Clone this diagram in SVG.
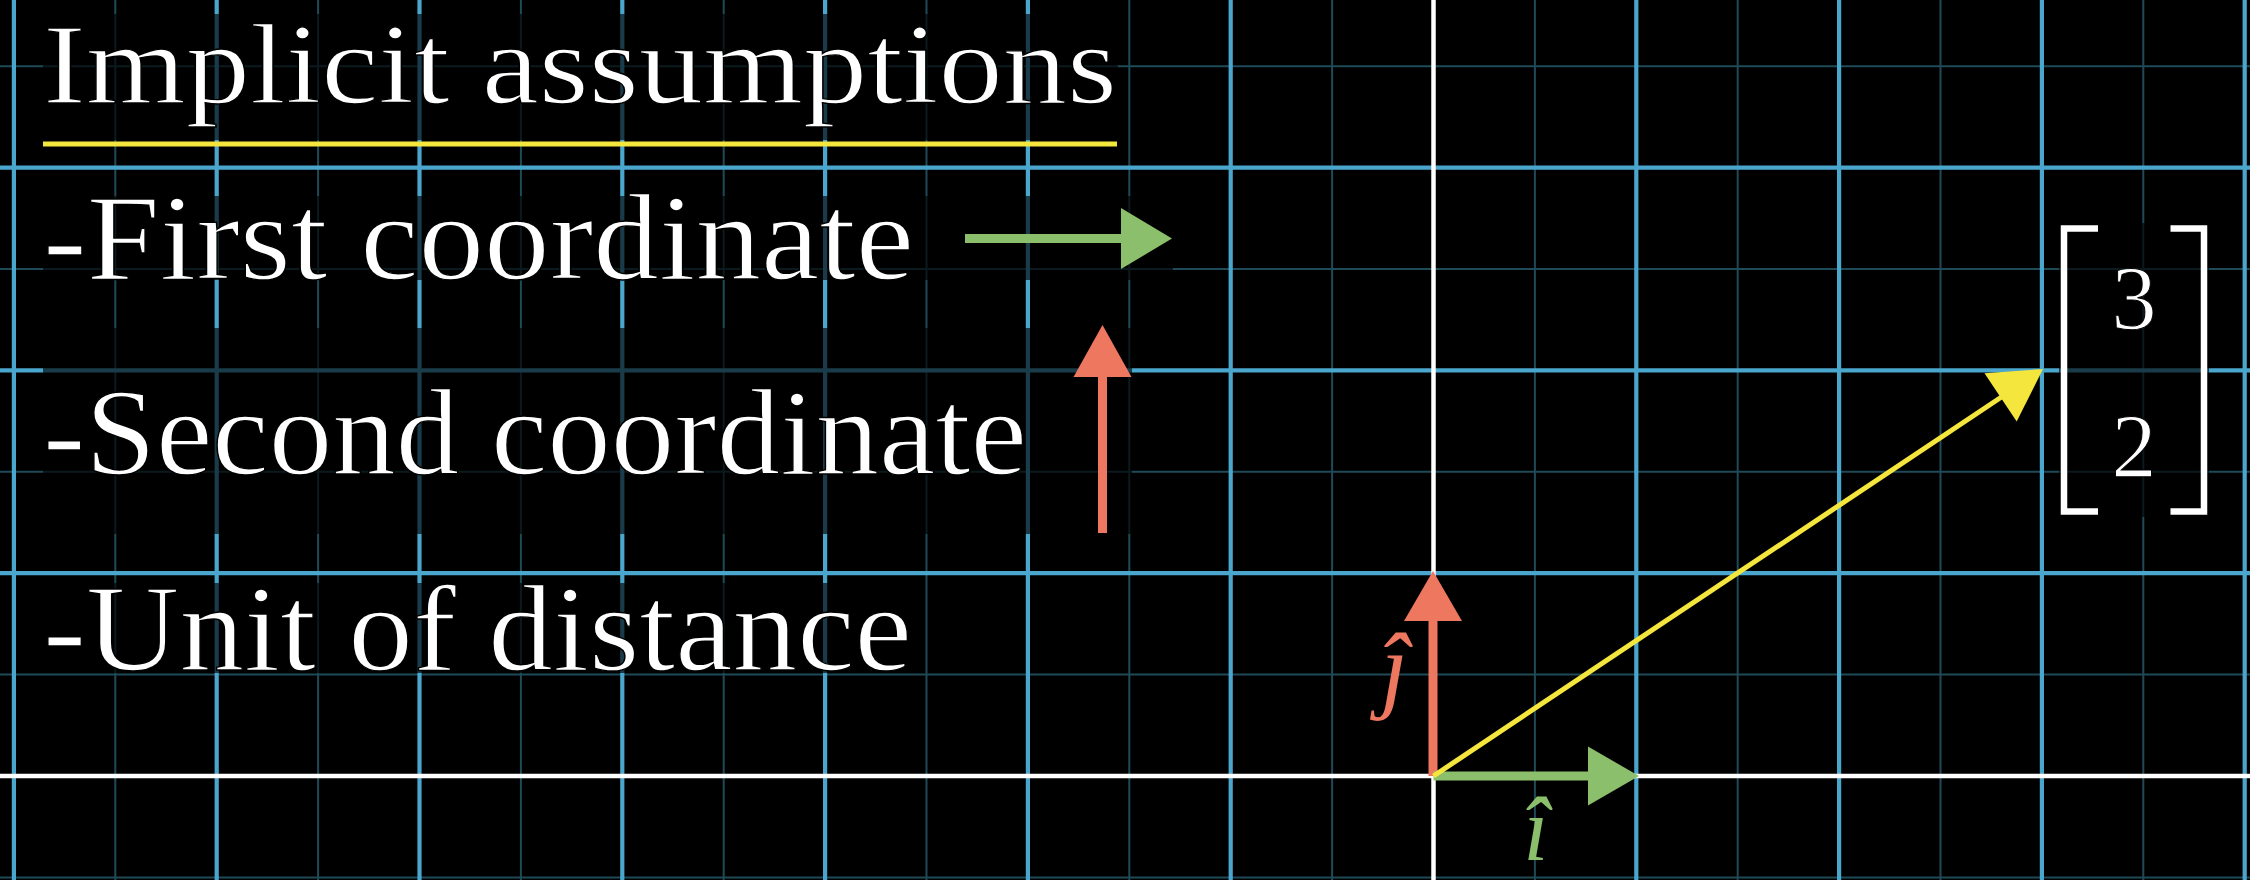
<svg xmlns="http://www.w3.org/2000/svg" width="2250" height="880" viewBox="0 0 2250 880">
<style>
.minor{stroke:#1f4a57;stroke-width:2}
.major{stroke:#4aa6cd;stroke-width:4.2}
.axis{stroke:#ffffff;stroke-width:4.5}
.dim{fill:#000000;fill-opacity:0.64}
.txt{font-family:"Liberation Serif","Times New Roman",serif;font-size:122px;fill:#ffffff;stroke:#000000;stroke-width:1.4}
.ttl{font-size:115px}
.num{font-family:"Liberation Serif","Times New Roman",serif;font-size:90px;fill:#ffffff;text-anchor:middle;stroke:#000000;stroke-width:1}
.hat{font-family:"Liberation Serif","Times New Roman",serif;font-style:italic;font-size:98px;text-anchor:middle}
.ihat{font-size:90px}
.green{fill:#8cbf6b;stroke:#8cbf6b}
.red{fill:#ee775f;stroke:#ee775f}
.yellow{fill:#f4e63d;stroke:#f4e63d}
.shaft{stroke-width:9;fill:none}
.head{stroke:none}
</style>
<rect x="0" y="0" width="2250" height="880" fill="#000000"/>
<g id="grid">
<g id="minor-lines">
<line class="minor" x1="115.3" y1="0" x2="115.3" y2="880"/>
<line class="minor" x1="318.1" y1="0" x2="318.1" y2="880"/>
<line class="minor" x1="520.9" y1="0" x2="520.9" y2="880"/>
<line class="minor" x1="723.7" y1="0" x2="723.7" y2="880"/>
<line class="minor" x1="926.5" y1="0" x2="926.5" y2="880"/>
<line class="minor" x1="1129.3" y1="0" x2="1129.3" y2="880"/>
<line class="minor" x1="1332.1" y1="0" x2="1332.1" y2="880"/>
<line class="minor" x1="1534.9" y1="0" x2="1534.9" y2="880"/>
<line class="minor" x1="1737.7" y1="0" x2="1737.7" y2="880"/>
<line class="minor" x1="1940.5" y1="0" x2="1940.5" y2="880"/>
<line class="minor" x1="2143.3" y1="0" x2="2143.3" y2="880"/>
<line class="minor" x1="0" y1="66.2" x2="2250" y2="66.2"/>
<line class="minor" x1="0" y1="269" x2="2250" y2="269"/>
<line class="minor" x1="0" y1="471.8" x2="2250" y2="471.8"/>
<line class="minor" x1="0" y1="674.6" x2="2250" y2="674.6"/>
<line class="minor" x1="0" y1="877.4" x2="2250" y2="877.4"/>
</g>
<g id="major-lines">
<line class="major" x1="13.9" y1="0" x2="13.9" y2="880"/>
<line class="major" x1="216.7" y1="0" x2="216.7" y2="880"/>
<line class="major" x1="419.5" y1="0" x2="419.5" y2="880"/>
<line class="major" x1="622.3" y1="0" x2="622.3" y2="880"/>
<line class="major" x1="825.1" y1="0" x2="825.1" y2="880"/>
<line class="major" x1="1027.9" y1="0" x2="1027.9" y2="880"/>
<line class="major" x1="1230.7" y1="0" x2="1230.7" y2="880"/>
<line class="major" x1="1636.3" y1="0" x2="1636.3" y2="880"/>
<line class="major" x1="1839.1" y1="0" x2="1839.1" y2="880"/>
<line class="major" x1="2041.9" y1="0" x2="2041.9" y2="880"/>
<line class="major" x1="2244.7" y1="0" x2="2244.7" y2="880"/>
<line class="major" x1="0" y1="167.6" x2="2250" y2="167.6"/>
<line class="major" x1="0" y1="370.4" x2="2250" y2="370.4"/>
<line class="major" x1="0" y1="573.2" x2="2250" y2="573.2"/>
</g>
<g id="axes">
<line class="axis" x1="0" y1="776" x2="2250" y2="776"/>
<line class="axis" x1="1433.5" y1="0" x2="1433.5" y2="880"/>
</g>
</g>
<g id="backgrounds">
<rect class="dim" x="43" y="14" width="1075" height="126"/>
<rect class="dim" x="43" y="196" width="1130" height="84"/>
<rect class="dim" x="43" y="328" width="1089" height="206"/>
<rect class="dim" x="43" y="583" width="870" height="90"/>
<rect class="dim" x="2059" y="223" width="150" height="294"/>
</g>
<g id="title">
<text class="txt ttl" x="43" y="102.5" textLength="1074" lengthAdjust="spacingAndGlyphs">Implicit assumptions</text>
<line x1="43" y1="144" x2="1117" y2="144" stroke="#f4e63d" stroke-width="5"/>
</g>
<g id="item-first">
<text class="txt" x="43" y="278.5" textLength="871" lengthAdjust="spacingAndGlyphs">-First coordinate</text>
<line class="green shaft" x1="965" y1="238.5" x2="1124" y2="238.5"/>
<polygon class="green head" points="1172,238.5 1121,208 1121,269"/>
</g>
<g id="item-second">
<text class="txt" x="43" y="474" textLength="984" lengthAdjust="spacingAndGlyphs">-Second coordinate</text>
<line class="red shaft" x1="1102.5" y1="533" x2="1102.5" y2="374"/>
<polygon class="red head" points="1102.5,325 1073.5,377 1131.5,377"/>
</g>
<g id="item-unit">
<text class="txt" x="43" y="670" textLength="869" lengthAdjust="spacingAndGlyphs">-Unit of distance</text>
</g>
<g id="matrix">
<path d="M2098,228.5 H2064 V511.5 H2098" fill="none" stroke="#ffffff" stroke-width="6.5"/>
<path d="M2170.5,228.5 H2204 V511.5 H2170.5" fill="none" stroke="#ffffff" stroke-width="6.5"/>
<text class="num" x="2134" y="329">3</text>
<text class="num" x="2134" y="477">2</text>
</g>
<g id="connectors">
<g id="j-hat-vector">
<line class="red shaft" x1="1433" y1="776" x2="1433" y2="617"/>
<polygon class="red head" points="1433,571 1404,621 1462,621"/>
</g>
<g id="i-hat-vector">
<line class="green shaft" x1="1433.5" y1="776" x2="1590" y2="776"/>
<polygon class="green head" points="1639,776 1588,746.5 1588,805.5"/>
</g>
<g id="v-vector">
<line class="yellow" x1="1433.5" y1="776" x2="2003" y2="396" stroke-width="5"/>
<polygon class="yellow head" points="2043,369 1984.5,373.2 2016.7,421.4"/>
</g>
</g>
<g id="labels">
<text class="hat" x="1394" y="700" fill="#ee775f">ĵ</text>
<text class="hat ihat" x="1536" y="860" fill="#8cbf6b">î</text>
</g>
</svg>
